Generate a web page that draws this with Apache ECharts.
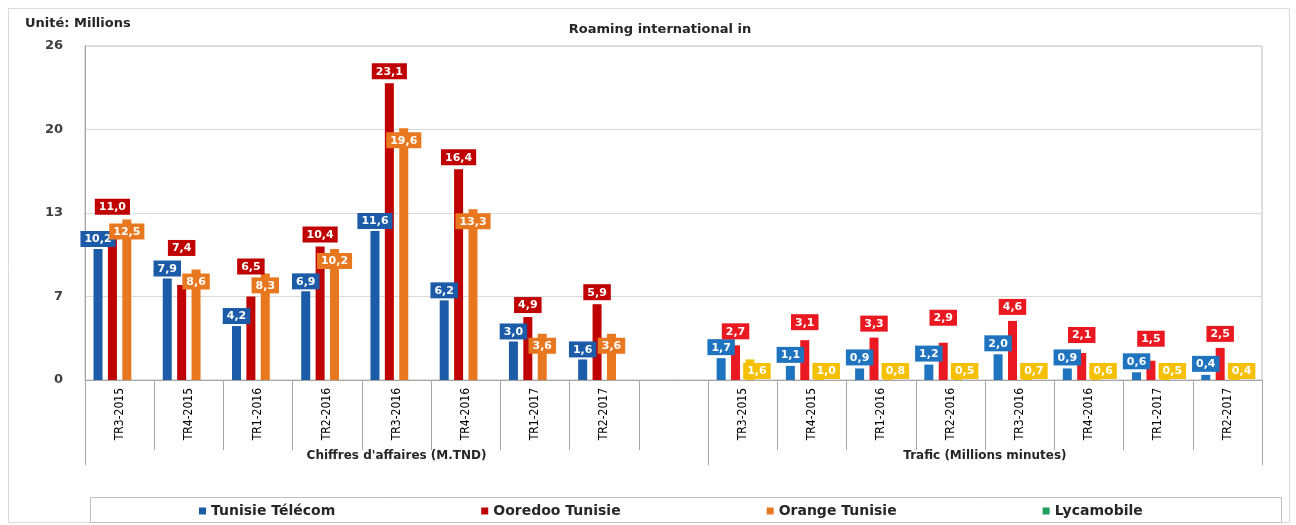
<!DOCTYPE html>
<html lang="fr">
<head>
    <meta charset="UTF-8">
    <title>Roaming international in</title>
    <script src="https://cdn.jsdelivr.net/npm/echarts@6/dist/echarts.min.js"></script>
    <style>
        *{
            padding:0;
            margin:0;
        }
        html,body{
            width:100%;
            height:100%;
            background:#fff;
        }
        #main{
            width:1296px;
            height:525px;
        }
    </style>
</head>
<body>
<div id="main"></div>
<script>
    // quarters (used for both blocks)
    var quarters = ['TR3-2015','TR4-2015','TR1-2016','TR2-2016','TR3-2016','TR4-2016','TR1-2017','TR2-2017'];
    var groups = ["Chiffres d'affaires (M.TND)", 'Trafic (Millions minutes)'];
    var seriesNames = ['Tunisie Télécom','Ooredoo Tunisie','Orange Tunisie','Lycamobile'];

    // chiffres d'affaires
    var caTT = [10.2, 7.9, 4.2, 6.9, 11.6, 6.2, 3.0, 1.6];
    var caOO = [11.0, 7.4, 6.5, 10.4, 23.1, 16.4, 4.9, 5.9];
    var caOR = [12.5, 8.6, 8.3, 10.2, 19.6, 13.3, 3.6, 3.6];
    // trafic
    var trTT = [1.7, 1.1, 0.9, 1.2, 2.0, 0.9, 0.6, 0.4];
    var trOO = [2.7, 3.1, 3.3, 2.9, 4.6, 2.1, 1.5, 2.5];
    var trOR = [1.6, 1.0, 0.8, 0.5, 0.7, 0.6, 0.5, 0.4];

    var yTickLabels = ['0','7','13','20','26'];

    // extra lift of the red labels so they don't sit on the others
    var redLift = [20, 25, 18, 0, 0, 0, 0, 0, 0, 0, 4, 0, 11, 0, 4, 8, 0];

    var axisCats = quarters.concat([''], quarters);

    function fmt(v){
        return v.toFixed(1).replace('.', ',');
    }

    var baseLabel = {
        show: true,
        color: '#fff',
        fontWeight: 'bold',
        fontSize: 11,
        fontFamily: 'DejaVu Sans',
        padding: [3, 4, 2, 4],
        formatter: function (p) { return fmt(p.value); }
    };

    function items(ca, tr, col1, col2, lab1, lab2, lifts){
        var out = [];
        for (var i = 0; i < axisCats.length; i++) {
            if (i === 8) { out.push('-'); continue; }
            var g2 = i > 8;
            var k = g2 ? i - 9 : i;
            var col = g2 ? col2 : col1;
            var lab = Object.assign({}, baseLabel, g2 ? lab2 : lab1, {backgroundColor: col});
            if (lifts) lab.offset = [0, -lifts[i]];
            out.push({value: g2 ? tr[k] : ca[k], itemStyle: {color: col}, label: lab});
        }
        return out;
    }

    var empty = axisCats.map(function () { return '-'; });

    var myChart = echarts.init(document.getElementById('main'));
    var option = {
        animation: false,
        textStyle: {fontFamily: 'DejaVu Sans'},
        title: [
            {
                text: 'Roaming international in',
                left: 655,
                top: 18,
                textAlign: 'center',
                textStyle: {fontSize: 13, fontWeight: 'bold', color: '#262626'}
            },
            {
                text: 'Unité: Millions',
                left: 20,
                top: 12,
                textStyle: {fontSize: 13, fontWeight: 'bold', color: '#262626'}
            }
        ],
        graphic: [
            {
                type: 'rect',
                shape: {x: 8.5, y: 8.5, width: 1281, height: 514},
                style: {fill: 'none', stroke: '#d9d9d9', lineWidth: 1},
                silent: true
            },
            {
                type: 'rect',
                shape: {x: 90.5, y: 497.5, width: 1191, height: 25},
                style: {fill: 'none', stroke: '#bfbfbf', lineWidth: 1},
                silent: true
            }
        ],
        legend: {
            data: seriesNames,
            left: 194,
            top: 499,
            itemWidth: 7,
            itemHeight: 7,
            itemGap: 146,
            icon: 'rect',
            textStyle: {fontSize: 14, fontWeight: 'bold', color: '#262626'}
        },
        grid: {
            left: 85,
            right: 34,
            top: 46,
            bottom: 145,
            show: true,
            borderColor: '#bfbfbf',
            borderWidth: 1
        },
        xAxis: [
            {
                type: 'category',
                data: axisCats,
                axisLine: {lineStyle: {color: '#a6a6a6'}},
                axisTick: {show: true, interval: 0, length: 70, lineStyle: {color: '#a6a6a6'}},
                axisLabel: {
                    interval: 0,
                    rotate: 90,
                    margin: 8,
                    fontSize: 12,
                    fontFamily: "'Liberation Sans Narrow', 'DejaVu Sans Condensed', sans-serif",
                    color: '#000'
                }
            },
            {
                type: 'category',
                data: axisCats,
                position: 'bottom',
                axisLine: {show: false},
                axisTick: {
                    show: true,
                    length: 85,
                    interval: function (i) { return i === 0 || i === 9; },
                    lineStyle: {color: '#a6a6a6'}
                },
                axisLabel: {
                    margin: 70,
                    interval: function (i) { return i === 4 || i === 12; },
                    formatter: function (v, i) {
                        return i === 4 ? '{a|' + groups[0] + '}' : '{b|' + groups[1] + '}';
                    },
                    rich: {
                        a: {fontSize: 12, fontWeight: 'bold', color: '#262626'},
                        b: {fontSize: 12, fontWeight: 'bold', color: '#262626', padding: [0, 0, 0, 69]}
                    }
                }
            }
        ],
        yAxis: {
            type: 'value',
            min: 0,
            max: 26,
            interval: 6.5,
            axisLine: {show: true, lineStyle: {color: '#a6a6a6'}},
            axisTick: {show: false},
            splitLine: {lineStyle: {color: '#d9d9d9'}},
            axisLabel: {
                margin: 22,
                fontSize: 13,
                fontWeight: 'bold',
                color: '#404040',
                formatter: function (v) { return yTickLabels[Math.round(v / 6.5)]; }
            }
        },
        series: [
            {
                name: seriesNames[0],
                type: 'bar',
                barWidth: 9,
                barGap: '60%',
                itemStyle: {color: '#1c5ba7'},
                data: items(caTT, trTT, '#1c5ba7', '#1f74c0',
                    {position: 'top', distance: 2},
                    {position: 'top', distance: 3})
            },
            {
                name: seriesNames[1],
                type: 'bar',
                barWidth: 9,
                barGap: '60%',
                itemStyle: {color: '#c00000'},
                data: items(caOO, trOO, '#c00000', '#ea1820',
                    {position: 'top', distance: 4},
                    {position: 'top', distance: 6}, redLift)
            },
            {
                name: seriesNames[2],
                type: 'bar',
                barWidth: 9,
                barGap: '60%',
                itemStyle: {color: '#e8781f'},
                data: items(caOR, trOR, '#e8781f', '#f5c000',
                    {position: 'insideTop', distance: 4},
                    {position: 'insideBottom', distance: 1, offset: [7, 0]})
            },
            {
                name: seriesNames[3],
                type: 'bar',
                barWidth: 9,
                barGap: '60%',
                itemStyle: {color: '#1f9e5c'},
                data: empty
            }
        ]
    };
    myChart.setOption(option);
</script>
</body>
</html>
